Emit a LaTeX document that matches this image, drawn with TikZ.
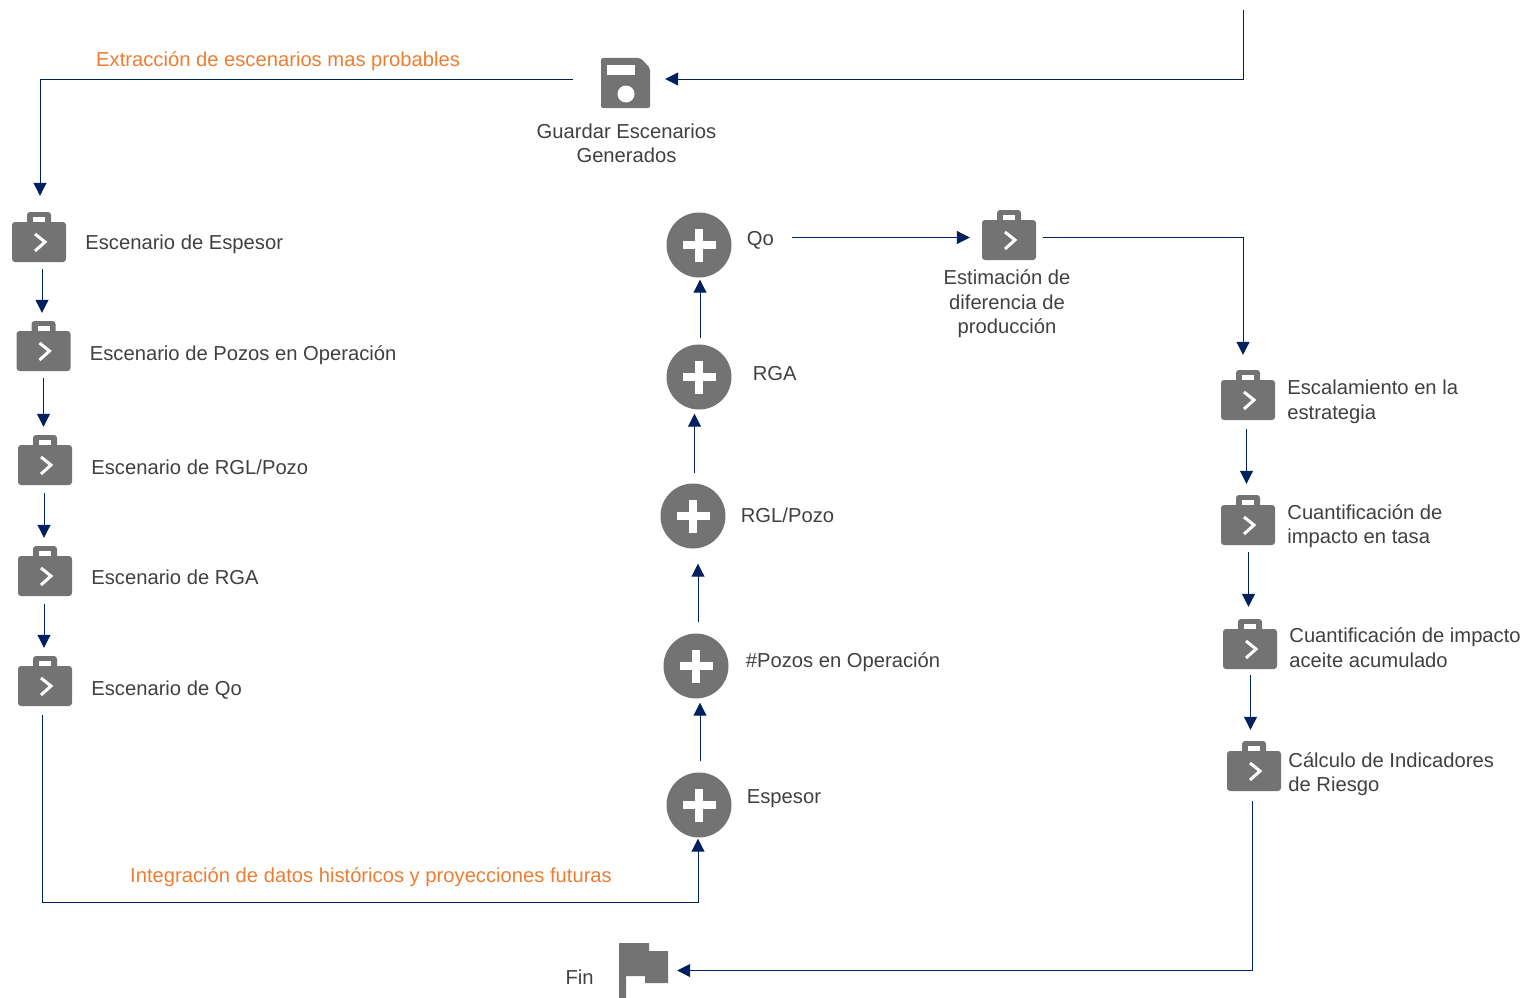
\documentclass[tikz,border=0pt]{standalone}
\usepackage{fontspec}
\setmainfont{Liberation Sans}
\usepackage{tikz}
\usetikzlibrary{arrows.meta,positioning}
\definecolor{iconGray}{HTML}{737373}
\definecolor{flowBlue}{HTML}{002060}
\definecolor{textGray}{HTML}{404040}
\definecolor{noteOrange}{HTML}{ED7D31}
\tikzset{
  flow/.style={draw=flowBlue,line width=1pt,-{Triangle[width=13pt,length=13pt]}},
  plainflow/.style={draw=flowBlue,line width=1pt},
  lbl/.style={on grid=false,inner sep=0pt,text=textGray,align=left,font=\fontsize{20.2}{24.5}\selectfont},
  note/.style={lbl,text=noteOrange,anchor=west},
  suitcase/.style={inner sep=0pt,minimum width=54pt,minimum height=50pt,
    path picture={
      \begin{scope}[shift={(path picture bounding box.center)}]
        \fill[iconGray,rounded corners=3pt] (-27,-15) rectangle (27,25);
        \fill[iconGray,rounded corners=3pt] (-12,-25) rectangle (12,-10);
        \fill[white] (-6,-20) rectangle (6,-15);
        \draw[white,line width=3pt] (-4,-3) -- (6,5) -- (-4,14);
      \end{scope}
    }},
  plusdisc/.style={circle,fill=iconGray,inner sep=0pt,minimum size=65pt,
    path picture={
      \fill[white] ([xshift=-16.5pt,yshift=-4pt]path picture bounding box.center) rectangle ([xshift=16.5pt,yshift=4pt]path picture bounding box.center);
      \fill[white] ([xshift=-4pt,yshift=-16.5pt]path picture bounding box.center) rectangle ([xshift=4pt,yshift=16.5pt]path picture bounding box.center);
    }},
  floppy/.style={inner sep=0pt,minimum width=49pt,minimum height=50pt,
    path picture={
      \begin{scope}[shift={(path picture bounding box.center)}]
        \fill[iconGray,rounded corners=2pt] (-24.5,-25) -- (15,-25) -- (24.5,-15) -- (24.5,25) -- (-24.5,25) -- cycle;
        \fill[white] (-18.5,-18) rectangle (9.5,-8);
        \fill[white] (0.5,11) circle (8.5);
      \end{scope}
    }},
  flag/.style={inner sep=0pt,minimum width=49pt,minimum height=55pt,
    path picture={
      \begin{scope}[shift={(path picture bounding box.center)}]
        \fill[iconGray] (-24.5,-27.5) -- (5.5,-27.5) -- (5.5,-19.5) -- (24.5,-19.5) -- (24.5,12.5) -- (1.5,12.5) -- (1.5,5.5) -- (-17.5,5.5) -- (-17.5,27.5) -- (-24.5,27.5) -- cycle;
      \end{scope}
    }}
}
\begin{document}
\begin{tikzpicture}[x=1pt,y=-1pt,on grid]
  \useasboundingbox (0,0) rectangle (1528,998);
  % top
  \coordinate (entry) at (1243,10);
  \node[floppy] (guardar) at (625.5,83) {};
  \node[lbl,align=center,below=15pt of guardar,xshift=1pt] (guardarLbl) {Guardar Escenarios\\Generados};
  \node[note] (extraccion) at (96,61) {Extracción de escenarios mas probables};
  % left column
  \node[suitcase] (esc_1) at (39,237) {};
  \node[suitcase] (esc_2) [below right=109pt and 4.5pt of esc_1] {};
  \node[suitcase] (esc_3) [below right=114pt and 1.5pt of esc_2] {};
  \node[suitcase] (esc_4) [below=111pt of esc_3] {};
  \node[suitcase] (esc_5) [below=110pt of esc_4] {};
  \node[lbl] (escLbl_1) [right=19pt of esc_1,yshift=-7pt] {Escenario de Espesor};
  \node[lbl] (escLbl_2) [right=19pt of esc_2,yshift=-9pt] {Escenario de Pozos en Operación};
  \node[lbl] (escLbl_3) [right=19pt of esc_3,yshift=-7pt] {Escenario de RGL/Pozo};
  \node[lbl] (escLbl_4) [right=19pt of esc_4,yshift=-6pt] {Escenario de RGA};
  \node[lbl] (escLbl_5) [right=19pt of esc_5,yshift=-9pt] {Escenario de Qo};
  \node[note] (integracion) at (130,877) {Integración de datos históricos y proyecciones futuras};
  \coordinate (integraBend) at (699,902);
  % middle column
  \node[plusdisc] (var_1) at (699,805) {};
  \node[plusdisc] (var_2) [above left=139pt and 3pt of var_1] {};
  \node[plusdisc] (var_3) [above left=150pt and 3pt of var_2] {};
  \node[plusdisc] (var_4) [above right=139pt and 6pt of var_3] {};
  \node[plusdisc] (var_5) [above=132pt of var_4] {};
  \node[lbl] (varLbl_1) [right=15pt of var_1,yshift=6pt] {Espesor};
  \node[lbl] (varLbl_2) [right=17pt of var_2,yshift=4pt] {\#Pozos en Operación};
  \node[lbl] (varLbl_3) [right=15pt of var_3,yshift=1pt] {RGL/Pozo};
  \node[lbl] (varLbl_4) [right=21pt of var_4,yshift=3pt] {RGA};
  \node[lbl] (varLbl_5) [right=15pt of var_5,yshift=5pt] {Qo};
  \node[suitcase] (estim) at (1009,235) {};
  \node[lbl,align=center] (estimLbl) at (1007,304) {Estimación de\\diferencia de\\producción};
  % right column
  \node[suitcase] (res_1) at (1248,395) {};
  \node[suitcase] (res_2) [below=125pt of res_1] {};
  \node[suitcase] (res_3) [below right=124pt and 2pt of res_2] {};
  \node[suitcase] (res_4) [below right=122pt and 4pt of res_3] {};
  \node[lbl] (resLbl_1) [right=12pt of res_1,yshift=-7pt] {Escalamiento en la\\estrategia};
  \node[lbl] (resLbl_2) [right=12pt of res_2,yshift=-6pt] {Cuantificación de\\impacto en tasa};
  \node[lbl] (resLbl_3) [right=12pt of res_3,yshift=-3.5pt] {Cuantificación de impacto\\aceite acumulado};
  \node[lbl] (resLbl_4) [right=7pt of res_4,yshift=-8pt] {Cálculo de Indicadores\\de Riesgo};
  % end
  \node[flag] (fin) at (643.5,970.5) {};
  \node[lbl] (finLbl) [left=25pt of fin,yshift=-7pt] {Fin};
  % connectors
  \draw[flow,shorten >=15pt] (entry) |- ([yshift=4pt]guardar.east);
  \draw[flow,shorten <=28pt,shorten >=16pt] ([yshift=4pt]guardar.west) -| ([xshift=1pt]esc_1.north);
  \draw[flow,shorten <=7pt,shorten >=8pt] ([xshift=3pt]esc_1.south) -- ([xshift=3pt]esc_1.south |- esc_2.north);
  \draw[flow,shorten <=7pt,shorten >=8pt] (esc_2.south) -- (esc_2.south |- esc_3.north);
  \draw[flow,shorten <=8pt,shorten >=8pt] ([xshift=-1pt]esc_3.south) -- ([xshift=-1pt]esc_3.south |- esc_4.north);
  \draw[flow,shorten <=8pt,shorten >=8pt] ([xshift=-1pt]esc_4.south) -- ([xshift=-1pt]esc_4.south |- esc_5.north);
  \draw[plainflow,shorten <=9pt] ([xshift=-2.5pt]esc_5.south) |- (integraBend);
  \draw[flow,shorten >=1pt] ([xshift=-1pt]integraBend) -- ([xshift=-1pt]var_1.south);
  \draw[flow,shorten <=11pt,shorten >=4pt] ([xshift=1pt]var_1.north) -- ([xshift=1pt]var_1.north |- var_2.south);
  \draw[flow,shorten <=11pt,shorten >=15pt] ([xshift=2pt]var_2.north) -- ([xshift=2pt]var_2.north |- var_3.south);
  \draw[flow,shorten <=10pt,shorten >=4pt] ([xshift=1.5pt]var_3.north) -- ([xshift=1.5pt]var_3.north |- var_4.south);
  \draw[flow,shorten <=6pt,shorten >=2pt] ([xshift=1pt]var_4.north) -- ([xshift=1pt]var_4.north |- var_5.south);
  \draw[flow,shorten <=18pt,shorten >=12pt] ([yshift=2.5pt]varLbl_5.east) -- ([yshift=2.5pt]varLbl_5.east -| estim.west);
  \draw[flow,shorten <=7pt,shorten >=15pt] ([yshift=-2pt]estim.east) -| ([xshift=-5pt]res_1.north);
  \draw[flow,shorten <=9pt,shorten >=11pt] ([xshift=-1.5pt]res_1.south) -- ([xshift=-1.5pt]res_1.south |- res_2.north);
  \draw[flow,shorten <=7pt,shorten >=12pt] ([xshift=.5pt]res_2.south) -- ([xshift=.5pt]res_2.south |- res_3.north);
  \draw[flow,shorten <=6pt,shorten >=11pt] ([xshift=.5pt]res_3.south) -- ([xshift=.5pt]res_3.south |- res_4.north);
  \draw[flow,shorten <=10pt,shorten >=9pt] ([xshift=-1.5pt]res_4.south) |- (fin.east);
\end{tikzpicture}
\end{document}
